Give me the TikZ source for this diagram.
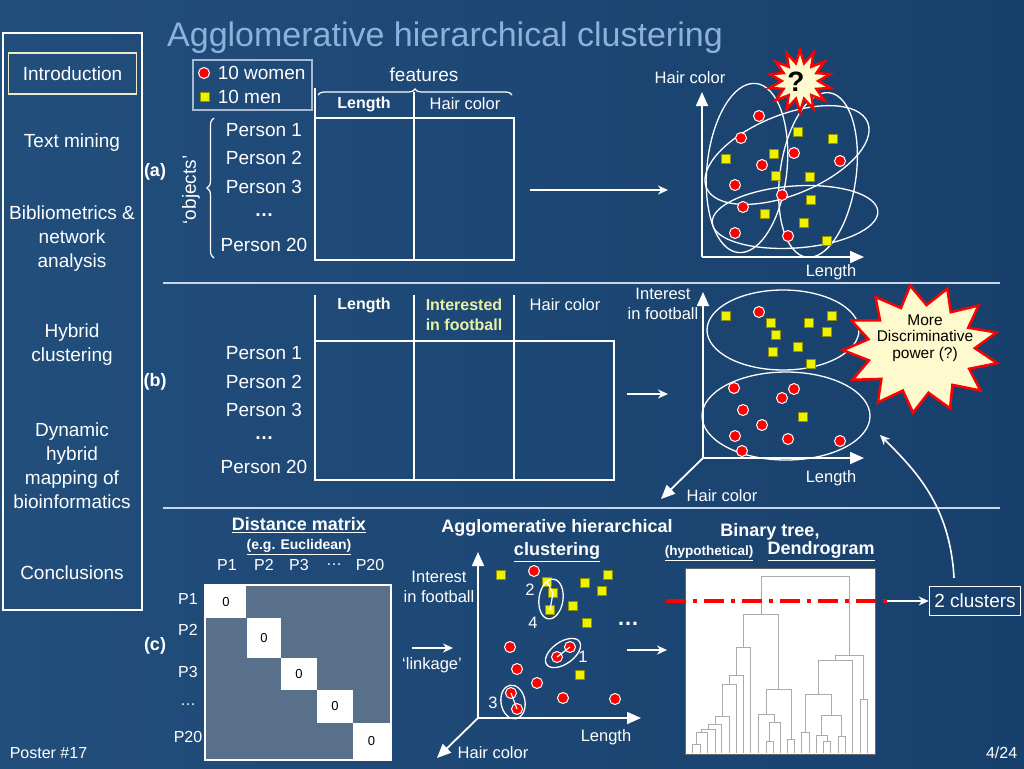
\documentclass[tikz,border=0pt]{standalone}
\usepackage{fontspec}
\setmainfont{Liberation Sans}
\usetikzlibrary{arrows.meta,shapes.geometric,decorations.pathreplacing}

\definecolor{bgleft}{RGB}{34,78,124}
\definecolor{bgright}{RGB}{24,64,108}
\definecolor{titleblue}{RGB}{140,178,220}
\definecolor{rulecol}{RGB}{200,214,232}
\definecolor{legendcol}{RGB}{165,185,210}
\definecolor{introcol}{RGB}{235,235,200}
\definecolor{manyellow}{RGB}{238,242,0}
\definecolor{footyellow}{RGB}{232,242,165}
\definecolor{starfill}{RGB}{255,250,205}
\definecolor{matgray}{RGB}{88,112,138}
\definecolor{dendgray}{RGB}{170,170,170}

\begin{document}
\begin{tikzpicture}[x=1pt,y=-1pt,>={Stealth[length=10pt,width=9pt]},
                    white,line width=1.6pt]
  \tikzset{
    txt/.style={text=white,inner sep=0pt,align=center,font=\fontsize{19}{24}\selectfont},
    lbl/.style={text=white,inner sep=0pt,align=center,font=\fontsize{16.5}{19.5}\selectfont},
    hdr/.style={text=white,inner sep=0pt,align=center,font=\bfseries\fontsize{16}{19.5}\selectfont},
    sect/.style={text=white,inner sep=0pt,font=\bfseries\fontsize{18}{22}\selectfont},
    axis/.style={-{Triangle[length=14pt,width=12pt]},line width=1.8pt},
    woman/.style={circle,fill=red,draw=white,line width=1pt,minimum size=11pt,inner sep=0pt},
    man/.style={rectangle,fill=manyellow,draw=manyellow!60!black,line width=0.4pt,minimum size=9pt,inner sep=0pt},
    group/.style={draw=white,line width=1.3pt},
    burst/.style={star,fill=starfill,draw=red,line width=2.5pt,inner sep=0pt},
    dend/.style={draw=dendgray,line width=0.9pt}
  }

  \useasboundingbox (0,0) rectangle (1024,768);
  \shade[left color=bgleft,right color=bgright] (0,0) rectangle (1024,768);

  \node[text=titleblue,font=\fontsize{34}{40}\selectfont,inner sep=0pt] (title) at (445,38) {Agglomerative hierarchical clustering};

  % sidebar
  \draw (3,33) rectangle (142,610);
  \node[txt,draw=introcol,minimum width=128pt,minimum height=41pt] (intro) at (72.5,73.5) {Introduction};
  \node[txt] (textmin) at (72,143) {Text mining};
  \node[txt] (biblio)  at (72,239) {Bibliometrics \&\\network\\analysis};
  \node[txt] (hybrid)  at (72,345) {Hybrid\\clustering};
  \node[txt] (dynamic) at (72,466) {Dynamic\\hybrid\\mapping of\\bioinformatics};
  \node[txt] (concl)   at (72,573) {Conclusions};

  \draw[rulecol] (163,283) -- (1000,283);
  \draw[rulecol] (163,508) -- (1000,508);

  % (a)
  \draw[legendcol,line width=1.3pt] (193,60) rectangle (312,110);
  \node[woman] (lw) at (204,73) {};
  \node[man]   (lm) at (205,97) {};
  \node[txt,anchor=west] (lwt) at (217,73) {10 women};
  \node[txt,anchor=west] (lmt) at (217,97) {10 men};

  \node[txt] (feat) at (424,75) {features};
  \draw[decorate,decoration={brace,amplitude=6pt},line width=1.2pt] (318,95) -- (512,95);
  \node[hdr] (ha1) at (364,104) {Length};
  \node[lbl] (ha2) at (465,104) {Hair color};
  \draw[line width=1.3pt] (315,88) -- (315,118);
  \draw[line width=1.3pt] (414,92) -- (414,118);
  \draw[line width=2.4pt] (315,118) rectangle (514,260);
  \draw (414,118) -- (414,260);

  \node[txt] (pa1)  at (264,130) {Person 1};
  \node[txt] (pa2)  at (264,158) {Person 2};
  \node[txt] (pa3)  at (264,187) {Person 3};
  \node[txt] (padd) at (264,215) {\textbf{\ldots}};
  \node[txt] (pa20) at (264,245) {Person 20};
  \draw[decorate,decoration={brace,amplitude=7pt},line width=1.2pt] (214,258) -- (214,118);
  \node[txt,rotate=90] (objs) at (191,190) {‘objects’};
  \node[sect] (seca) at (155,172) {(a)};

  \coordinate (arr-a1) at (530,190);
  \coordinate (arr-a2) at (668,190);
  \draw[->] (arr-a1) -- (arr-a2);

  \draw[group,rotate around={-6:(747,168)}] (747,168) ellipse (40 and 85);
  \draw[group,rotate around={22:(787,155)}] (787,155) ellipse (87 and 40);
  \draw[group,rotate around={-8:(818,175)}] (818,175) ellipse (38 and 83);
  \draw[group,rotate around={4:(795,217)}] (795,217) ellipse (83 and 31);

  \coordinate (pa-o) at (702,257);
  \coordinate (pa-y) at (702,92);
  \coordinate (pa-x) at (864,257);
  \draw[axis] (pa-o) -- (pa-y);
  \draw[axis] (pa-o) -- (pa-x);
  \node[lbl] (pa-yl) at (690,78) {Hair color};
  \node[lbl] (pa-xl) at (831,272) {Length};

  \foreach \x/\y [count=\i] in {759/116,741/138,794/153,840/161,762/165,735/185,782/195,743/207,735/233,788/236}
    \node[woman] (wa\i) at (\x,\y) {};
  \foreach \x/\y [count=\i] in {798/132,833/139,726/159,774/154,776/176,810/177,811/200,765/214,804/223,827/241}
    \node[man] (ma\i) at (\x,\y) {};

  \node[burst,star points=14,star point ratio=1.7,minimum size=62pt] (qstar) at (800,81) {};
  \node[text=black,font=\bfseries\fontsize{28}{30}\selectfont,inner sep=0pt] (qmark) at (796,82) {?};

  % (b)
  \draw[line width=1.3pt] (315,295) -- (315,341);
  \draw[line width=1.3pt] (414,295) -- (414,341);
  \draw[line width=1.3pt] (514,295) -- (514,341);
  \draw[line width=2.4pt] (315,341) rectangle (614,480);
  \draw (414,341) -- (414,480);
  \draw (514,341) -- (514,480);
  \node[hdr] (hb1) at (364,305) {Length};
  \node[hdr,text=footyellow] (hb2) at (464,315) {Interested\\in football};
  \node[lbl] (hb3) at (565,305) {Hair color};

  \node[txt] (pb1)  at (264,353) {Person 1};
  \node[txt] (pb2)  at (264,382) {Person 2};
  \node[txt] (pb3)  at (264,410) {Person 3};
  \node[txt] (pbdd) at (264,438) {\textbf{\ldots}};
  \node[txt] (pb20) at (264,467) {Person 20};
  \node[sect] (secb) at (155,382) {(b)};

  \coordinate (arr-b1) at (627,394);
  \coordinate (arr-b2) at (668,394);
  \draw[->] (arr-b1) -- (arr-b2);

  \draw[group] (783,330) ellipse (76 and 40);
  \draw[group] (786,416) ellipse (84 and 44);

  \coordinate (pb-o) at (703,458);
  \coordinate (pb-y) at (703,292);
  \coordinate (pb-x) at (864,458);
  \coordinate (pb-z) at (661,499);
  \draw[axis] (pb-o) -- (pb-y);
  \draw[axis] (pb-o) -- (pb-x);
  \draw[axis] (pb-o) -- (pb-z);
  \node[lbl] (pb-yl) at (663,304) {Interest\\in football};
  \node[lbl] (pb-xl) at (831,478) {Length};
  \node[lbl] (pb-zl) at (722,496) {Hair color};

  \foreach \x/\y [count=\i] in {759/312,734/388,794/389,782/398,743/410,762/425,735/436,788/439,840/441,742/451}
    \node[woman] (wb\i) at (\x,\y) {};
  \foreach \x/\y [count=\i] in {726/316,771/323,776/335,809/323,832/316,827/332,798/347,773/352,811/364,803/417}
    \node[man] (mb\i) at (\x,\y) {};

  \begin{scope}[shift={(921,349)},xscale=1.22]
    \node[burst,star points=13,star point ratio=1.45,minimum size=128pt,rotate=8,transform shape] (dstar) at (0,0) {};
  \end{scope}
  \node[text=black,inner sep=0pt,align=center,font=\fontsize{15.5}{16.5}\selectfont] (dtext) at (925,338) {More\\Discriminative\\power (?)};

  \node[txt,draw=white,line width=1.3pt,inner xsep=5pt,minimum height=29pt] (twoc) at (975,601) {2 clusters};
  \coordinate (cv-end) at (880,435);
  \draw[->] ([xshift=-21pt,yshift=8pt]twoc.north) .. controls (950,505) and (915,470) .. (cv-end);

  % (c)
  \node[sect] (secc) at (155,646) {(c)};
  \node[sect] (dmat) at (299,525) {\underline{Distance matrix}};
  \node[sect,font=\bfseries\fontsize{14}{16}\selectfont] (eucl) at (299,547) {\underline{(e.g. Euclidean)}};
  \foreach \t/\x [count=\i] in {P1/227,P2/264,P3/299,\ldots/334,P20/370}
    \node[lbl,font=\fontsize{16}{18}\selectfont] (col\i) at (\x,565) {\t};
  \foreach \t/\y [count=\i] in {P1/599,P2/630,P3/672,\ldots/705,P20/737}
    \node[lbl,font=\fontsize{16}{18}\selectfont] (row\i) at (188,\y) {\t};

  \draw[fill=matgray,line width=2pt] (205,585) rectangle (391,760);
  \foreach \xa/\ya/\xb/\yb [count=\i] in {206/586/246/618,247/618/281/658,281/658/317/690,317/690/353/723,353/723/390/759}
    \node[fill=white,inner sep=0pt,minimum width=\xb-\xa,minimum height=\yb-\ya,text=black,font=\fontsize{13}{14}\selectfont] (zero\i) at ({(\xa+\xb)/2},{(\ya+\yb)/2}) {0};

  \node[sect] (aggl) at (557,528) {Agglomerative hierarchical};
  \node[sect] (clus) at (557,552) {\underline{clustering}};

  \coordinate (arr-c1) at (412,648);
  \coordinate (arr-c2) at (453,648);
  \draw[->] (arr-c1) -- (arr-c2);
  \node[lbl] (link) at (432,665) {‘linkage’};

  \coordinate (pc-o) at (478,718);
  \coordinate (pc-y) at (478,552);
  \coordinate (pc-x) at (641,718);
  \coordinate (pc-z) at (437,758);
  \draw[axis] (pc-o) -- (pc-y);
  \draw[axis] (pc-o) -- (pc-x);
  \draw[axis] (pc-o) -- (pc-z);
  \node[lbl] (pc-yl) at (439,587) {Interest\\in football};
  \node[lbl] (pc-xl) at (606,737) {Length};
  \node[lbl] (pc-zl) at (493,753) {Hair color};

  \foreach \x/\y [count=\i] in {534/571,510/647,570/647,557/657,517/669,537/683,563/698,615/699,511/693,517/709}
    \node[woman] (cr\i) at (\x,\y) {};
  \foreach \x/\y [count=\i] in {501/575,547/582,553/593,550/610,585/583,608/575,602/591,573/606,587/623,580/675}
    \node[man] (cy\i) at (\x,\y) {};

  \draw[line width=1.2pt] (cy2.center) -- (cy3.center) -- (cy4.center);
  \draw[line width=1.2pt] (cr3.center) -- (cr4.center);
  \draw[line width=1.2pt] (cr9.center) -- (cr10.center);
  \draw[group,rotate around={-8:(551,599)}] (551,599) ellipse (12 and 20);
  \draw[group,rotate around={35:(563,653)}] (563,653) ellipse (20 and 11);
  \draw[group,rotate around={10:(513,702)}] (513,702) ellipse (12 and 17);
  \node[lbl] (n2) at (530,590) {2};
  \node[lbl] (n4) at (533,623) {4};
  \node[lbl] (n1) at (583,657) {1};
  \node[lbl] (n3) at (493,703) {3};

  \node[sect,font=\bfseries\fontsize{22}{22}\selectfont] (cdots) at (628,624) {\ldots};
  \coordinate (arr-d1) at (627,650);
  \coordinate (arr-d2) at (667,650);
  \draw[->] (arr-d1) -- (arr-d2);

  \node[sect] (btree) at (770,532) {Binary tree,};
  \node[sect,font=\bfseries\fontsize{13.5}{15}\selectfont] (hypo) at (709,553) {\underline{(hypothetical)}};
  \node[sect] (dgram) at (821,551) {\underline{Dendrogram}};

  \begin{scope}[shift={(660,510)},scale=1/3]
    \draw[fill=white,draw=black!60,line width=0.8pt] (75,175) rectangle (645,733);
    \foreach \xa/\ya/\xb/\yb/\h in {98/730/120/730/703,109/703/142/730/667,125/667/165/730/657,
        145/657/185/730/643,165/643/208/730/620,186/620/230/730/522,208/522/250/730/495,
        229/495/272/730/412,318/730/340/730/693,329/693/360/730/636,296/730/344/636/612,
        382/730/404/730/688,320/612/393/688/537,250/412/356/537/313,425/730/447/730/667,
        490/730/512/730/695,470/730/501/695/677,535/730/555/730/680,485/677/545/680/617,
        436/667/515/617/553,475/553/578/730/450,600/730/622/730/568,527/450/611/568/437,
        303/313/569/437/198}
      \draw[dend] (\xa,\ya) |- (\xb,\h) -- (\xb,\yb);
  \end{scope}

  \coordinate (cut-l) at (666,601);
  \coordinate (cut-r) at (887,601);
  \draw[red,line width=3.5pt,dash pattern=on 20pt off 7pt on 4pt off 7pt] (cut-l) -- (cut-r);
  \draw[->] (cut-r) -- (twoc.west);

  \node[lbl,font=\fontsize{16}{18}\selectfont,anchor=west] (poster) at (9,753) {Poster \#17};
  \node[lbl,font=\fontsize{16}{18}\selectfont,anchor=east] (page) at (1018,753) {4/24};
\end{tikzpicture}
\end{document}
